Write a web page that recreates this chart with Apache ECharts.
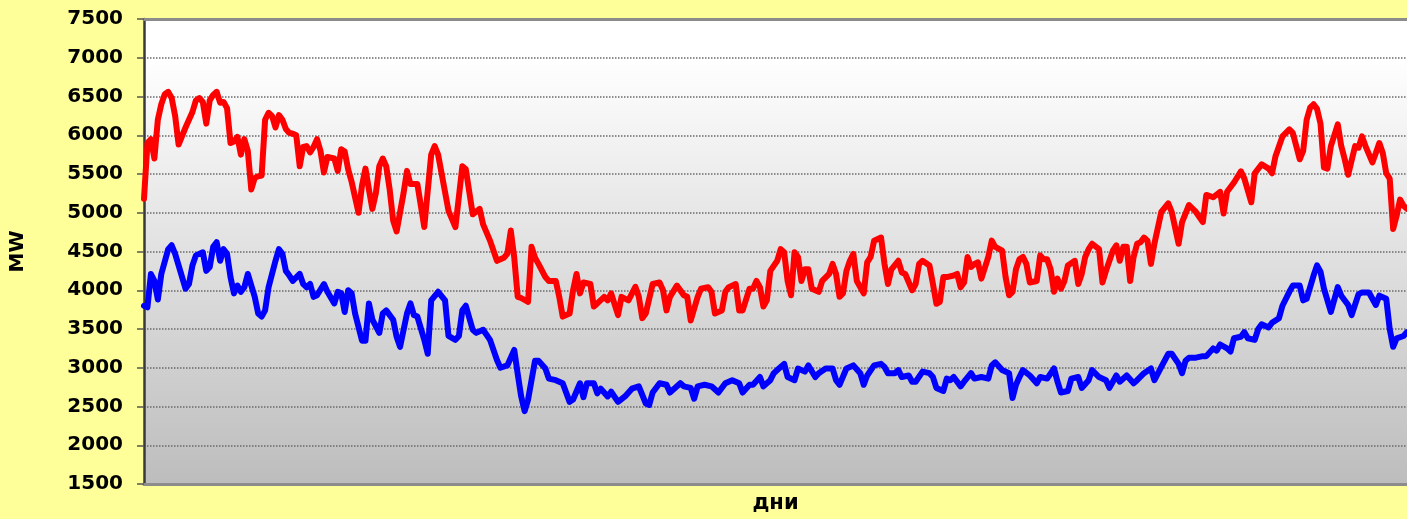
<!DOCTYPE html>
<html>
<head>
<meta charset="utf-8">
<script src="https://cdn.jsdelivr.net/npm/echarts@6/dist/echarts.min.js"></script>
<style>
html,body{margin:0;padding:0;background:#FFFF99;}
#chart{width:1407px;height:519px;}
</style>
</head>
<body>
<div id="chart"></div>
<script>
// [day, MW] pairs
const redSeries = [[0,5180],[1,5900],[2,5950],[3,5700],[4,6200],[5,6400],[6,6530],[7,6560],[8,6480],[9,6250],[10,5880],[12,6100],[13,6200],[14,6300],[15,6450],[16,6480],[17,6430],[18,6150],[19,6450],[20,6520],[21,6560],[22,6420],[23,6430],[24,6350],[25,5900],[26,5920],[27,5980],[28,5750],[29,5950],[30,5800],[31,5300],[32,5450],[33,5470],[34,5480],[35,6200],[36,6290],[37,6250],[38,6100],[39,6260],[40,6200],[41,6080],[42,6030],[43,6020],[44,6000],[45,5600],[46,5850],[47,5860],[48,5780],[49,5850],[50,5950],[51,5800],[52,5520],[53,5720],[54,5710],[55,5700],[56,5540],[57,5820],[58,5790],[59,5560],[60,5400],[61,5200],[62,5000],[63,5350],[64,5570],[65,5300],[66,5050],[67,5250],[68,5600],[69,5700],[70,5600],[71,5300],[72,4900],[73,4760],[75,5250],[76,5540],[77,5370],[79,5370],[81,4815],[83,5750],[84,5860],[85,5750],[88,5025],[90,4815],[92,5600],[93,5560],[95,4980],[97,5050],[98,4850],[100,4640],[102,4380],[104,4420],[105,4470],[106,4770],[107,4420],[108,3915],[109,3900],[111,3850],[112,4560],[113,4420],[114,4340],[116,4170],[117,4120],[119,4120],[120,3915],[121,3660],[123,3700],[124,4000],[125,4210],[126,3960],[127,4100],[129,4080],[130,3790],[131,3830],[133,3915],[134,3870],[135,3960],[137,3680],[138,3915],[140,3870],[142,4045],[143,3915],[144,3640],[145,3700],[147,4080],[149,4100],[150,4000],[151,3740],[152,3915],[154,4060],[155,4000],[156,3935],[157,3915],[158,3610],[160,3915],[161,4020],[163,4040],[164,3980],[165,3700],[167,3740],[168,3980],[169,4040],[171,4080],[172,3740],[173,3740],[175,4020],[176,4020],[177,4120],[178,4040],[179,3790],[180,3870],[181,4250],[183,4380],[184,4530],[185,4490],[186,4120],[187,3935],[188,4490],[189,4430],[190,4120],[191,4270],[192,4270],[193,4020],[195,3980],[196,4120],[198,4210],[199,4340],[200,4210],[201,3915],[202,3960],[203,4250],[204,4380],[205,4470],[206,4120],[208,3960],[209,4360],[210,4430],[211,4640],[213,4680],[214,4340],[215,4080],[216,4270],[218,4380],[219,4230],[220,4210],[222,4000],[223,4080],[224,4340],[225,4380],[227,4320],[228,4080],[229,3825],[230,3850],[231,4170],[232,4170],[234,4190],[235,4210],[236,4040],[237,4100],[238,4430],[239,4300],[240,4340],[241,4360],[242,4150],[244,4430],[245,4640],[246,4560],[248,4510],[249,4170],[250,3935],[251,3980],[252,4270],[253,4400],[254,4430],[255,4340],[256,4100],[258,4120],[259,4450],[260,4400],[261,4400],[262,4270],[263,3980],[264,4150],[265,4020],[266,4120],[267,4320],[269,4380],[270,4080],[271,4210],[272,4430],[273,4530],[274,4600],[276,4530],[277,4100],[278,4250],[280,4510],[281,4580],[282,4380],[283,4560],[284,4560],[285,4120],[286,4430],[287,4600],[288,4620],[289,4680],[290,4640],[291,4340],[292,4600],[294,5010],[296,5120],[297,5010],[299,4600],[300,4880],[302,5100],[304,5010],[306,4880],[307,5230],[309,5200],[311,5270],[312,4990],[313,5270],[315,5390],[317,5535],[318,5440],[320,5135],[321,5510],[323,5625],[325,5570],[326,5510],[327,5730],[329,5985],[331,6075],[332,6030],[334,5690],[335,5800],[336,6200],[337,6355],[338,6400],[339,6340],[340,6150],[341,5585],[342,5570],[343,5860],[345,6140],[346,5860],[347,5690],[348,5490],[350,5860],[351,5840],[352,5985],[353,5860],[355,5650],[356,5770],[357,5900],[358,5770],[359,5510],[360,5440],[361,4790],[362,4960],[363,5170],[364,5090],[365,5050]];

const blueSeries = [[0,3800],[1,3780],[2,4210],[3,4120],[4,3880],[5,4210],[7,4530],[8,4580],[9,4470],[10,4320],[12,4020],[13,4080],[14,4320],[15,4450],[17,4490],[18,4250],[19,4300],[20,4560],[21,4620],[22,4380],[23,4530],[24,4470],[25,4170],[26,3960],[27,4060],[28,3980],[29,4040],[30,4210],[32,3915],[33,3700],[34,3660],[35,3740],[36,4040],[38,4380],[39,4530],[40,4470],[41,4250],[42,4190],[43,4120],[45,4210],[46,4080],[47,4040],[48,4080],[49,3915],[50,3935],[52,4080],[53,3980],[55,3830],[56,3980],[57,3960],[58,3720],[59,4000],[60,3960],[61,3700],[63,3350],[64,3350],[65,3830],[66,3620],[68,3450],[69,3700],[70,3740],[72,3620],[73,3400],[74,3270],[76,3700],[77,3830],[78,3680],[79,3660],[81,3360],[82,3180],[83,3870],[85,3980],[87,3870],[88,3410],[90,3360],[91,3410],[92,3740],[93,3800],[95,3490],[96,3450],[98,3490],[100,3360],[102,3100],[103,3000],[105,3030],[107,3230],[108,2920],[109,2630],[110,2440],[111,2590],[113,3090],[114,3090],[116,2990],[117,2860],[119,2840],[121,2800],[123,2560],[124,2590],[126,2800],[127,2620],[128,2800],[130,2800],[131,2670],[132,2730],[134,2630],[135,2690],[137,2560],[139,2630],[141,2730],[143,2760],[145,2540],[146,2520],[147,2680],[149,2800],[151,2780],[152,2680],[155,2800],[156,2760],[158,2740],[159,2600],[160,2760],[162,2780],[164,2760],[166,2680],[168,2800],[170,2840],[172,2800],[173,2680],[175,2780],[176,2780],[178,2880],[179,2760],[181,2840],[182,2930],[183,2970],[185,3050],[186,2880],[188,2840],[189,2990],[191,2950],[192,3030],[194,2880],[195,2930],[197,2990],[199,2990],[200,2840],[201,2780],[203,2990],[204,3010],[205,3030],[207,2930],[208,2780],[209,2900],[211,3030],[213,3050],[214,3010],[215,2930],[217,2930],[218,2970],[219,2880],[221,2900],[222,2820],[223,2820],[225,2950],[227,2930],[228,2880],[229,2740],[231,2700],[232,2860],[233,2840],[234,2880],[236,2760],[237,2820],[239,2930],[240,2860],[242,2880],[244,2860],[245,3030],[246,3070],[248,2970],[250,2930],[251,2610],[252,2780],[253,2880],[254,2970],[256,2900],[258,2800],[259,2880],[261,2860],[263,2990],[264,2820],[265,2680],[267,2700],[268,2860],[270,2880],[271,2740],[273,2840],[274,2970],[276,2880],[278,2840],[279,2740],[281,2900],[282,2820],[284,2900],[286,2800],[287,2840],[289,2930],[291,2990],[292,2840],[294,3010],[296,3180],[297,3180],[299,3050],[300,2930],[301,3090],[302,3130],[304,3130],[306,3150],[307,3150],[309,3250],[310,3220],[311,3300],[313,3250],[314,3210],[315,3380],[317,3400],[318,3460],[319,3380],[321,3360],[322,3500],[323,3560],[325,3520],[326,3580],[328,3640],[329,3800],[331,3980],[332,4060],[334,4060],[335,3870],[336,3890],[338,4190],[339,4320],[340,4240],[341,4020],[343,3720],[345,4040],[346,3930],[348,3810],[349,3680],[351,3950],[352,3970],[354,3970],[356,3810],[357,3930],[359,3890],[360,3500],[361,3270],[362,3380],[364,3410],[365,3460]];

const yMin = 1500, yMax = 7500, yStep = 500;
const dayMin = 0, dayMax = 365;
const xName = 'дни';
const yName = 'MW';

const chart = echarts.init(document.getElementById('chart'), null, {renderer: 'canvas'});
const font = "'DejaVu Sans', Verdana, sans-serif";
chart.setOption({
  backgroundColor: '#FFFF99',
  animation: false,
  grid: {
    left: 142, right: 0, top: 19, bottom: 33,
    show: true,
    borderWidth: 0,
    backgroundColor: {
      type: 'linear', x: 0, y: 0, x2: 0, y2: 1,
      colorStops: [
        {offset: 0, color: '#FFFFFF'},
        {offset: 0.08, color: '#FFFFFF'},
        {offset: 1, color: '#BDBDBD'}
      ]
    }
  },
  xAxis: [{
    type: 'value', min: dayMin, max: dayMax,
    position: 'bottom',
    name: xName, nameLocation: 'middle', nameGap: 9,
    nameTextStyle: {fontFamily: font, fontWeight: 'bold', fontSize: 21, color: '#000', verticalAlign: 'top'},
    axisLine: {show: true, onZero: false, lineStyle: {color: '#8C8C8C', width: 3}},
    axisTick: {show: false}, axisLabel: {show: false}, splitLine: {show: false}
  }, {
    type: 'value', min: dayMin, max: dayMax,
    position: 'top',
    axisLine: {show: true, onZero: false, lineStyle: {color: '#8C8C8C', width: 3}},
    axisTick: {show: false}, axisLabel: {show: false}, splitLine: {show: false}
  }],
  yAxis: {
    type: 'value', min: yMin, max: yMax, interval: yStep,
    name: yName, nameLocation: 'middle', nameGap: 116, nameRotate: 90,
    nameTextStyle: {fontFamily: font, fontWeight: 'bold', fontSize: 20, color: '#000'},
    axisLine: {show: true, lineStyle: {color: '#3A3A3A', width: 2.5}},
    axisTick: {show: true, length: 7, lineStyle: {color: '#555', width: 1.5}},
    axisLabel: {fontFamily: font, fontWeight: 'bold', fontSize: 20, color: '#000', margin: 21,
      formatter: function (v) { return String(v); }},
    splitLine: {show: true, lineStyle: {color: '#6A6A6A', width: 1.5, type: 'dotted'}}
  },
  series: [{
    type: 'line', data: blueSeries, showSymbol: false, symbol: 'none',
    lineStyle: {color: '#0000FF', width: 6, join: 'round', cap: 'round'},
    itemStyle: {color: '#0000FF'}
  }, {
    type: 'line', data: redSeries, showSymbol: false, symbol: 'none',
    lineStyle: {color: '#FF0000', width: 6, join: 'round', cap: 'round'},
    itemStyle: {color: '#FF0000'}
  }]
});
</script>
</body>
</html>
